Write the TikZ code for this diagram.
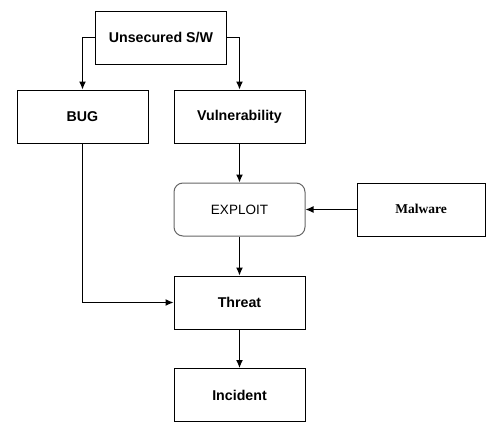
\documentclass[tikz,border=0pt]{standalone}
\usepackage{fontspec}
\setmainfont{Liberation Sans}
\newfontfamily\serifbold{Liberation Serif}
\usetikzlibrary{arrows.meta}
\tikzset{>={Latex[length=8,width=7]}}
\tikzset{
  box/.style={draw,line width=1,minimum width=131,minimum height=53,
    inner sep=0,font=\fontsize{14.2}{16}\selectfont\bfseries},
  roundbox/.style={box,draw=gray!80!black,rounded corners=9,
    font=\fontsize{13.5}{15}\selectfont},
  link/.style={->,line width=1.1}
}

\begin{document}
\begin{tikzpicture}[x=1pt,y=-1pt]
  \useasboundingbox (0,0) rectangle (486,423);

  % Boxes
  \node[box] (usw) at (161, 37.5) {Unsecured S/W};
  \node[box] (bug) at (82.5, 116.5) {BUG};
  \node[box] (vuln) at (239.5, 116.5) {Vulnerability};
  \node[roundbox] (exploit) at (239.5, 209.5) {EXPLOIT};
  \node[box,minimum width=128,font=\fontsize{13.5}{15}\selectfont\serifbold\bfseries] (malware) at (421, 209.5) {\raisebox{2pt}{Malware}};
  \node[box] (threat) at (239.5, 302.5) {Threat};
  \node[box] (incident) at (239.5, 395) {Incident};

  % Links
  \draw[link] (usw.west) -| (bug.north);
  \draw[link] (usw.east) -| (vuln.north);
  \draw[link] (vuln) -- (exploit);
  \draw[link] (malware.west |- exploit.east) -- (exploit.east);
  \draw[link] (exploit) -- (threat);
  \draw[link] (bug.south) |- (threat.west);
  \draw[link] (threat) -- (incident);
\end{tikzpicture}
\end{document}
